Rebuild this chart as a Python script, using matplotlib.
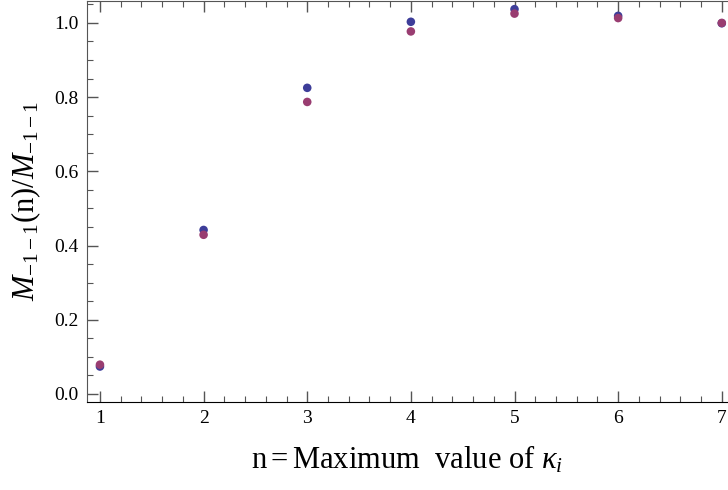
import matplotlib
matplotlib.use("Agg")
import matplotlib.pyplot as plt
from matplotlib.ticker import MultipleLocator

plt.rcParams['font.family'] = 'Liberation Serif'
plt.rcParams['mathtext.fontset'] = 'custom'
plt.rcParams['mathtext.rm'] = 'Liberation Serif'
plt.rcParams['mathtext.it'] = 'Liberation Serif:italic'

# ratio for each cutoff n, two series
n_vals = [1, 2, 3, 4, 5, 6, 7]
ratio_a = [0.074, 0.442, 0.825, 1.003, 1.037, 1.019, 0.999]
ratio_b = [0.079, 0.429, 0.787, 0.977, 1.025, 1.013, 1.000]

col_a = '#3d3d99'
col_b = '#993d71'

fig = plt.figure(figsize=(7.28, 4.9), dpi=100)
ax = fig.add_axes([87/728, 88/490, 1 - 87/728, 401/490])

ax.scatter(n_vals, ratio_a, s=38, color=col_a, edgecolors='none', zorder=3)
ax.scatter(n_vals, ratio_b, s=38, color=col_b, edgecolors='none', zorder=4)

ax.set_xlim(0.875, 7.06)
ax.set_ylim(-0.0216, 1.059)

ax.xaxis.set_major_locator(MultipleLocator(1))
ax.xaxis.set_minor_locator(MultipleLocator(0.2))
ax.yaxis.set_major_locator(MultipleLocator(0.2))
ax.yaxis.set_minor_locator(MultipleLocator(0.05))
ax.yaxis.set_major_formatter(plt.FuncFormatter(lambda v, p: '%.1f' % v))

ax.tick_params(which='both', direction='in', top=True, right=False,
               color='#555555', labelsize=14, pad=6)
ax.tick_params(which='major', length=8, width=1.0)
ax.tick_params(which='minor', length=4, width=0.8)

for side in ['left', 'top']:
    ax.spines[side].set_color('#555555')
ax.spines['right'].set_visible(False)
ax.spines['bottom'].set_color('black')

ax.set_xlabel(r'n$=$Maximum  value of $\kappa_i$', fontsize=22, labelpad=12)
ax.set_ylabel(r'$M_{-1-1}(\mathrm{n})/M_{-1-1}$', fontsize=22, labelpad=8)

fig.savefig('out.png', dpi=100)
